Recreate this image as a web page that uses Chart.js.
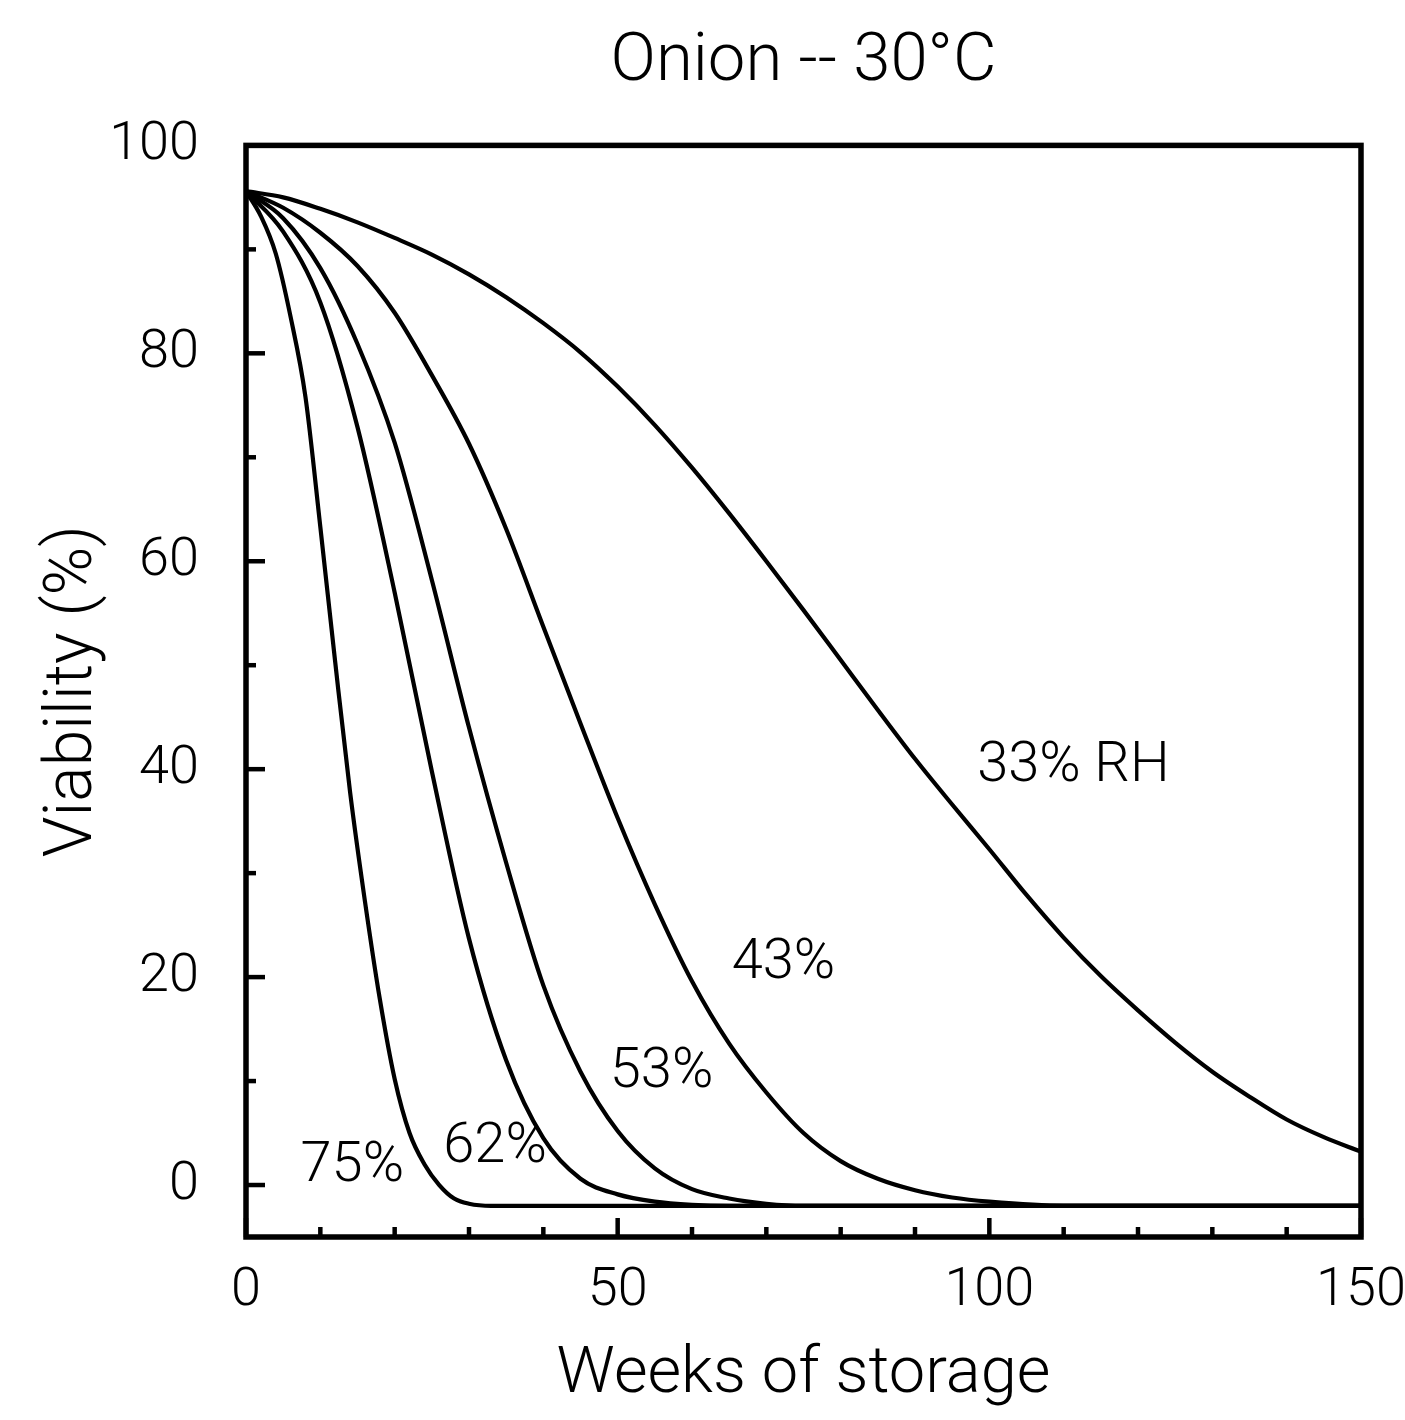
<!DOCTYPE html>
<html>
<head>
<meta charset="utf-8">
<title>Onion -- 30°C</title>
<script src="https://cdn.jsdelivr.net/npm/chart.js@4.4.1/dist/chart.umd.min.js"></script>
<style>
  html, body { margin: 0; padding: 0; background: #fff; }
  #wrap { width: 1405px; height: 1420px; }
</style>
</head>
<body>
<div id="wrap"><canvas id="chart"></canvas></div>
<script>
// values (weeks of storage -> viability %)
const weeks33 = [0, 5, 10, 15, 20, 25, 30, 35, 40, 45, 50, 55, 60, 65, 70, 75, 80, 85, 90, 95, 100, 105, 110, 115, 120, 125, 130, 135, 140, 145, 150];
const viab33 = [95.6, 95.0, 93.9, 92.6, 91.1, 89.5, 87.6, 85.4, 82.9, 80.1, 76.8, 73.1, 69.0, 64.6, 60.0, 55.3, 50.5, 45.7, 41.0, 36.6, 32.3, 27.9, 23.8, 20.1, 16.8, 13.7, 10.9, 8.5, 6.3, 4.6, 3.2];

const weeks43 = [0, 5, 10, 15, 20, 25, 30, 35, 40, 45, 50, 55, 60, 65, 70, 75, 80, 85, 90, 95, 100, 110, 150];
const viab43 = [95.6, 94.0, 91.6, 88.4, 83.9, 77.9, 71.3, 63.1, 53.7, 44.4, 35.3, 27.0, 19.6, 13.6, 8.9, 5.0, 2.3, 0.6, -0.5, -1.2, -1.6, -2.0, -2.0];

const weeks53 = [0, 5, 10, 15, 20, 25, 30, 35, 40, 45, 50, 55, 60, 65, 70, 75, 150];
const viab53 = [95.6, 93.0, 88.2, 80.9, 71.4, 58.2, 44.0, 31.0, 19.2, 10.9, 5.2, 1.6, -0.4, -1.3, -1.8, -2.0, -2.0];

const weeks62 = [0, 5, 10, 15, 20, 25, 30, 35, 40, 45, 50, 55, 60, 65, 150];
const viab62 = [95.6, 91.7, 84.9, 72.9, 57.0, 39.8, 23.7, 12.0, 4.5, 0.6, -0.9, -1.6, -1.9, -2.0, -2.0];

const weeks75 = [0, 2, 4, 6, 8, 10, 12, 14, 16, 18, 20, 22, 24, 26, 28, 30, 33, 150];
const viab75 = [95.6, 93.2, 89.6, 83.5, 75.8, 63.3, 50.3, 37.8, 27.3, 17.9, 10.2, 5.0, 2.0, 0.0, -1.3, -1.8, -2.0, -2.0];

const xTicks = [0, 50, 100, 150];
const yTicks = [0, 20, 40, 60, 80, 100];
const xMinor = [0, 10, 20, 30, 40, 50, 60, 70, 80, 90, 100, 110, 120, 130, 140, 150];
const yMinor = [0, 10, 20, 30, 40, 50, 60, 70, 80, 90, 100];

// curve labels, in data units (centre of the text)
const curveLabels = [
  { text: '75%', x: 14.3, y: 1.7 },
  { text: '62%', x: 33.5, y: 3.6 },
  { text: '53%', x: 55.9, y: 10.8 },
  { text: '43%', x: 72.3, y: 21.3 },
  { text: '33% RH', x: 111.3, y: 40.2 }
];

const fam = 'Roboto, "Liberation Sans", sans-serif';

function serie(xs, ys) {
  return {
    data: xs.map((v, i) => ({ x: v, y: ys[i] })),
    borderColor: '#000',
    borderWidth: 4.2,
    pointRadius: 0,
    fill: false,
    cubicInterpolationMode: 'monotone'
  };
}

// frame, inward ticks and curve labels
const ejes = {
  id: 'ejes',
  afterDatasetsDraw(chart) {
    const { ctx, chartArea: a, scales: { x, y } } = chart;
    ctx.save();
    ctx.strokeStyle = '#000';
    ctx.lineWidth = 4.5;
    xMinor.forEach(v => {
      const px = x.getPixelForValue(v);
      const len = xTicks.includes(v) ? 19 : 10;
      ctx.beginPath();
      ctx.moveTo(px, a.bottom);
      ctx.lineTo(px, a.bottom - len);
      ctx.stroke();
    });
    yMinor.forEach(v => {
      const py = y.getPixelForValue(v);
      const len = yTicks.includes(v) ? 19 : 10;
      ctx.beginPath();
      ctx.moveTo(a.left, py);
      ctx.lineTo(a.left + len, py);
      ctx.stroke();
    });
    ctx.lineWidth = 5.5;
    ctx.strokeRect(a.left, a.top, a.right - a.left, a.bottom - a.top);

    ctx.fillStyle = '#000';
    ctx.font = '300 56px ' + fam;
    ctx.textAlign = 'center';
    ctx.textBaseline = 'middle';
    curveLabels.forEach(l => {
      ctx.fillText(l.text, x.getPixelForValue(l.x), y.getPixelForValue(l.y));
    });
    ctx.restore();
  }
};

new Chart(document.getElementById('chart'), {
  type: 'line',
  data: {
    datasets: [
      serie(weeks33, viab33),
      serie(weeks43, viab43),
      serie(weeks53, viab53),
      serie(weeks62, viab62),
      serie(weeks75, viab75)
    ]
  },
  options: {
    responsive: true,
    maintainAspectRatio: false,
    animation: false,
    layout: { padding: { left: 0, right: 44, top: 0, bottom: 0 } },
    plugins: {
      legend: { display: false },
      tooltip: { enabled: false },
      title: {
        display: true,
        fullSize: false,
        text: 'Onion -- 30°C',
        color: '#000',
        font: { family: fam, size: 67, weight: 300 },
        padding: { top: 23, bottom: 42 }
      }
    },
    scales: {
      x: {
        type: 'linear',
        min: 0,
        max: 150,
        grid: { display: false, drawTicks: false },
        border: { display: false },
        afterBuildTicks: s => { s.ticks = xTicks.map(v => ({ value: v })); },
        afterFit: s => { s.height = 183; s.paddingLeft = 0; s.paddingRight = 0; },
        ticks: {
          color: '#000',
          padding: 22,
          maxRotation: 0,
          font: { family: fam, size: 54, weight: 300 }
        },
        title: {
          display: true,
          text: 'Weeks of storage',
          color: '#000',
          font: { family: fam, size: 65, weight: 300 },
          padding: { top: 0, bottom: 5 }
        }
      },
      y: {
        type: 'linear',
        min: -5,
        max: 100,
        grid: { display: false, drawTicks: false },
        border: { display: false },
        afterBuildTicks: s => { s.ticks = yTicks.map(v => ({ value: v })); },
        afterFit: s => { s.width = 246; s.paddingTop = 0; s.paddingBottom = 0; },
        ticks: {
          color: '#000',
          padding: 47,
          font: { family: fam, size: 54, weight: 300 }
        },
        title: {
          display: true,
          text: 'Viability (%)',
          color: '#000',
          font: { family: fam, size: 66, weight: 300 },
          padding: { top: 35, bottom: 0 }
        }
      }
    }
  },
  plugins: [ejes]
});
</script>
</body>
</html>
